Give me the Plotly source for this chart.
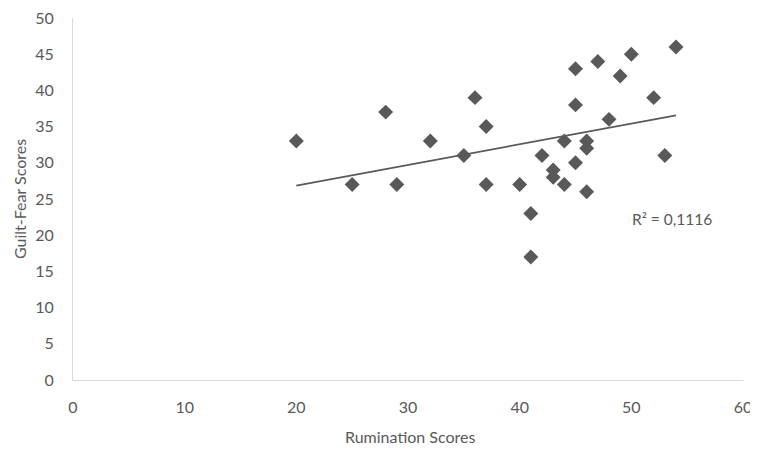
import numpy as np
import plotly.graph_objects as go

rumination = [20, 25, 28, 29, 32, 35, 36, 37, 37, 40, 41, 41, 42, 43, 43, 44, 44,
              45, 45, 45, 46, 46, 46, 47, 48, 49, 50, 52, 53, 54]
guilt_fear = [33, 27, 37, 27, 33, 31, 39, 35, 27, 27, 23, 17, 31, 29, 28, 33, 27,
              43, 38, 30, 33, 32, 26, 44, 36, 42, 45, 39, 31, 46]
r2_label = "R² = 0,1116"
x_ticks = [0, 10, 20, 30, 40, 50, 60]
y_ticks = [0, 5, 10, 15, 20, 25, 30, 35, 40, 45, 50]

slope, intercept = np.polyfit(rumination, guilt_fear, 1)
trend_x = [min(rumination), max(rumination)]
trend_y = [slope * v + intercept for v in trend_x]

grey = "#595959"
font_family = "Lato, 'Open Sans', sans-serif"

fig = go.Figure()
fig.add_trace(go.Scatter(
    x=rumination, y=guilt_fear, mode="markers",
    marker=dict(symbol="diamond", size=11.5, color=grey, line=dict(width=0)),
    showlegend=False, hoverinfo="x+y"))
fig.add_trace(go.Scatter(
    x=trend_x, y=trend_y, mode="lines",
    line=dict(color=grey, width=1.8), showlegend=False, hoverinfo="skip"))

fig.add_annotation(x=53.6, y=22.2, xref="x", yref="y", text=r2_label,
                   showarrow=False, font=dict(family=font_family, size=15.5, color=grey))
fig.add_annotation(x=0.503, y=-0.157, xref="paper", yref="paper", text="Rumination Scores",
                   showarrow=False, yanchor="middle",
                   font=dict(family=font_family, size=16, color=grey))
fig.add_annotation(x=-0.0806, y=0.5, xref="paper", yref="paper", text="Guilt-Fear Scores",
                   showarrow=False, textangle=-90, xanchor="center",
                   font=dict(family=font_family, size=16, color=grey))

# page body has an 8px default margin, so the figure is sized/offset to compensate
fig.update_layout(
    width=750, height=441,
    margin=dict(l=65, r=15, t=10, b=69),
    paper_bgcolor="white", plot_bgcolor="white",
    font=dict(family=font_family, color=grey),
)
fig.update_xaxes(
    range=[0, 60], tickvals=x_ticks, showgrid=False, zeroline=False,
    showline=True, linecolor="#d9d9d9", linewidth=1, automargin=False,
    ticks="", ticklabelstandoff=13, ticklabeloverflow="allow",
    tickfont=dict(family=font_family, size=16, color=grey),
)
fig.update_yaxes(
    range=[0, 50], tickvals=y_ticks, showgrid=False, zeroline=False,
    showline=True, linecolor="#d9d9d9", linewidth=1, automargin=False,
    ticks="", ticklabelstandoff=15, ticklabeloverflow="allow",
    tickfont=dict(family=font_family, size=16, color=grey),
)

fig.write_html("out.html")
